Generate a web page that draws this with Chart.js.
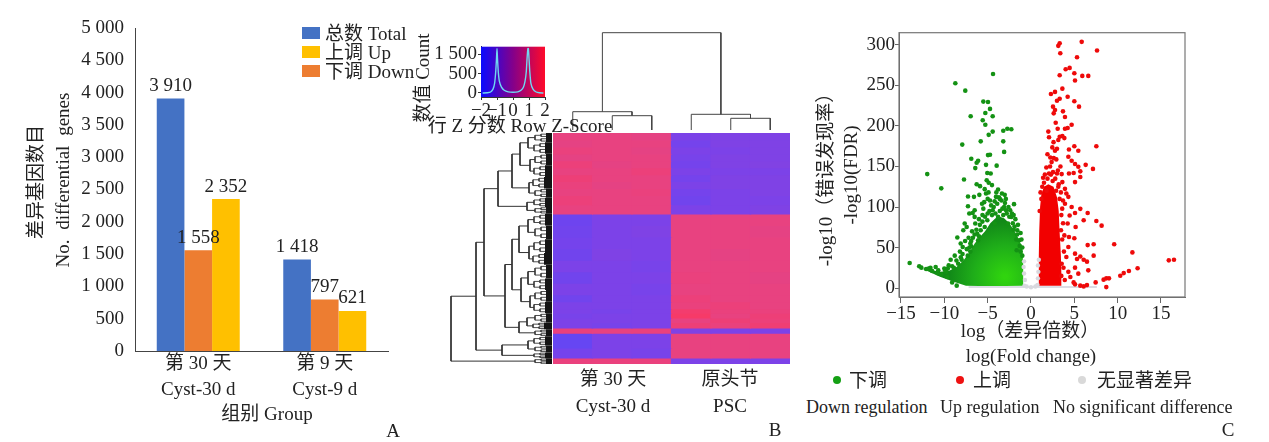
<!DOCTYPE html>
<html lang="zh">
<head>
<meta charset="utf-8">
<title>差异基因 Differential genes</title>
<script src="https://cdn.jsdelivr.net/npm/chart.js@4.4.1/dist/chart.umd.min.js"></script>
<style>
html,body{margin:0;padding:0;background:#fff;}
#fig{position:relative;width:1269px;height:442px;overflow:hidden;background:#fff;color:#222;
 font-family:'Liberation Serif','Noto Sans CJK SC',serif;font-size:19px;}
.cv{position:absolute;}
.t{position:absolute;white-space:nowrap;line-height:1;transform:translate(-50%,-50%);}
.l{position:absolute;white-space:nowrap;line-height:1;transform:translate(0,-50%);}
.rot{transform:translate(-50%,-50%) rotate(-90deg);}
.sw{position:absolute;width:18px;height:12px;}
.dot{position:absolute;width:8px;height:8px;border-radius:50%;transform:translate(-50%,-50%);}
</style>
</head>
<body>
<div id="fig">
 <div class="cv" style="left:0;top:0;width:410px;height:442px"><canvas id="barChart"></canvas></div>
 <div class="cv" style="left:410px;top:25px;width:150px;height:92px"><canvas id="keyChart"></canvas></div>
 <div class="cv" style="left:553px;top:28px;width:237px;height:105px"><canvas id="colDendro"></canvas></div>
 <div class="cv" style="left:445px;top:128px;width:108px;height:242px"><canvas id="rowDendro"></canvas></div>
 <div class="cv" style="left:553px;top:133px;width:237px;height:231px"><canvas id="heatmap"></canvas></div>
 <div class="cv" style="left:800px;top:20px;width:400px;height:307px"><canvas id="volcano"></canvas></div>

 <!-- Panel A texts -->
 <div class="t rot" style="left:35px;top:182px">差异基因数目</div>
 <div class="t rot" style="left:62px;top:180px;word-spacing:5px">No. differential genes</div>
 <div class="t" style="left:267px;top:413px">组别 Group</div>
 <div class="sw" style="left:302px;top:27px;background:#4472C4"></div>
 <div class="l" style="left:325px;top:33px">总数 Total</div>
 <div class="sw" style="left:302px;top:46px;background:#FFC000"></div>
 <div class="l" style="left:325px;top:52px">上调 Up</div>
 <div class="sw" style="left:302px;top:65px;background:#ED7D31"></div>
 <div class="l" style="left:325px;top:71px">下调 Down</div>
 <div class="t" style="left:393px;top:430px">A</div>

 <!-- Panel B texts -->
 <div class="t rot" style="left:422px;top:78px">数值 Count</div>
 <div class="t" style="left:520px;top:125px">行 Z 分数 Row Z-Score</div>
 <div class="t" style="left:613px;top:378px">第 30 天</div>
 <div class="t" style="left:613px;top:405px">Cyst-30 d</div>
 <div class="t" style="left:730px;top:378px">原头节</div>
 <div class="t" style="left:730px;top:405px">PSC</div>
 <div class="t" style="left:775px;top:429px">B</div>

 <!-- Panel C texts -->
 <div class="t rot" style="left:825px;top:175px">-log10（错误发现率）</div>
 <div class="t rot" style="left:850px;top:175px">-log10(FDR)</div>
 <div class="t" style="left:1030px;top:330px">log（差异倍数）</div>
 <div class="t" style="left:1031px;top:355px">log(Fold change)</div>
 <div class="dot" style="left:837px;top:380px;background:#14a014"></div>
 <div class="l" style="left:849px;top:380px">下调</div>
 <div class="dot" style="left:960px;top:380px;background:#ee1111"></div>
 <div class="l" style="left:973px;top:380px">上调</div>
 <div class="dot" style="left:1082px;top:380px;background:#d9d9d9"></div>
 <div class="l" style="left:1097px;top:380px">无显著差异</div>
 <div class="l" style="left:806px;top:407px;font-size:18px">Down regulation</div>
 <div class="l" style="left:940px;top:407px;font-size:18px">Up regulation</div>
 <div class="l" style="left:1053px;top:407px;font-size:18px">No significant difference</div>
 <div class="t" style="left:1228px;top:429px">C</div>
</div>

<script>
// ---------------- Panel A data ----------------
const groupLabels = [['第 30 天', 'Cyst-30 d'], ['第 9 天', 'Cyst-9 d']];
const totalGenes = [3910, 1418];
const downGenes = [1558, 797];
const upGenes = [2352, 621];

// ---------------- Panel B data ----------------
// colour-key histogram (Row Z-Score vs count)
const keyZ =     [-1.9, -1.6, -1.4, -1.25, -1.15, -1.08, -1.03, -1.0, -0.97, -0.92, -0.85, -0.72, -0.55, -0.3, 0, 0.3, 0.5, 0.65, 0.75, 0.83, 0.88, 0.93, 0.96, 1.0, 1.05, 1.12, 1.25, 1.45, 1.65, 1.9];
const keyCount = [0, 5, 25, 100, 250, 550, 900, 1150, 900, 550, 300, 150, 70, 30, 20, 30, 70, 150, 300, 550, 900, 1150, 1150, 900, 550, 250, 100, 25, 5, 0];
const keyTickValues = [0, 500, 1000];
const keyTickLabels = ['0', '500', '1 500'];
const keyZTicks = [-2, -1, 0, 1, 2];

// heatmap columns (3 replicates each)
const heatColumns = ['Cyst-30 d 1', 'Cyst-30 d 2', 'Cyst-30 d 3', 'PSC 1', 'PSC 2', 'PSC 3'];
// row bands (in % of gene rows, top to bottom)
const heatBandTop =    [0, 3, 6, 9, 12, 15, 18, 21, 24, 27, 31, 35, 40, 45, 50, 55, 60, 65, 70, 73, 76, 78, 80, 82, 84.4, 86.6, 93, 97.4];
const heatBandBottom = [3, 6, 9, 12, 15, 18, 21, 24, 27, 31, 35, 40, 45, 50, 55, 60, 65, 70, 73, 76, 78, 80, 82, 84.4, 86.6, 93, 97.4, 100];
const heatZ = [
  [1.0, 1.0, 0.95, -1.0, -0.95, -0.95],
  [0.95, 1.0, 1.0, -1.1, -0.95, -0.95],
  [1.05, 1.0, 0.95, -1.0, -1.0, -0.95],
  [0.95, 1.0, 1.0, -1.05, -0.95, -0.95],
  [1.1, 0.95, 1.0, -1.1, -0.95, -0.9],
  [1.0, 1.0, 1.1, -1.0, -1.0, -1.0],
  [1.15, 1.0, 1.0, -1.1, -0.95, -0.95],
  [1.05, 0.95, 1.0, -1.0, -0.95, -0.95],
  [1.0, 1.0, 1.05, -1.1, -1.0, -0.95],
  [1.1, 1.0, 1.0, -1.15, -1.0, -1.0],
  [1.0, 1.0, 1.0, -1.0, -1.0, -0.95],
  [-1.2, -1.0, -1.0, 1.0, 1.0, 1.0],
  [-1.15, -1.0, -0.95, 1.0, 1.0, 0.95],
  [-1.1, -1.0, -1.0, 1.0, 1.0, 1.0],
  [-1.15, -0.95, -1.0, 1.0, 0.95, 1.0],
  [-1.0, -1.0, -1.05, 1.0, 1.0, 1.0],
  [-1.15, -1.0, -1.0, 1.05, 1.0, 0.95],
  [-1.0, -1.0, -1.05, 1.0, 1.0, 1.0],
  [-1.15, -1.0, -1.0, 1.1, 1.0, 1.0],
  [-1.0, -1.0, -1.0, 1.05, 1.1, 1.0],
  [-1.0, -1.05, -1.0, 1.3, 1.05, 1.05],
  [-1.05, -1.0, -1.0, 1.4, 1.0, 1.15],
  [-1.0, -1.0, -1.0, 1.0, 1.15, 1.1],
  [-1.0, -1.05, -1.0, 1.15, 1.05, 1.2],
  [1.05, 1.0, 1.05, -0.95, -1.0, -1.0],
  [-1.3, -1.0, -1.0, 1.0, 1.0, 1.0],
  [-1.1, -1.0, -1.05, 1.0, 1.0, 1.0],
  [1.05, 1.05, 1.05, -1.0, -1.0, -1.0]
];
const zStops = [-1.5, -1, 0, 1, 1.5];
const zStopColors = [[88, 72, 250], [124, 66, 232], [177, 62, 180], [232, 66, 128], [250, 56, 98]];

// column dendrogram: leaf positions & merges [childA, childB, height] (hclust style)
const colLeafPos = [0.5, 1.5, 2.5, 3.5, 4.5, 5.5];
const colMerge = [[-2, -3, 14.3], [-1, 1, 18.3], [-5, -6, 11.7], [-4, 3, 15.7], [2, 4, 97.3]];

// row dendrogram: leaf clusters (row %), solid leaf-comb depth, merges
const rowLeafTop =    [0, 4, 9, 14, 19, 24, 28, 32, 35, 40, 46, 52, 57, 63, 68, 73, 78, 82, 85, 88, 92, 95, 97.5];
const rowLeafBottom = [4, 9, 14, 19, 24, 28, 32, 35, 40, 46, 52, 57, 63, 68, 73, 78, 82, 85, 88, 92, 95, 97.5, 100];
const rowLeafDepth =  [6, 7, 6, 7, 8, 6, 7, 6, 7, 6, 7, 8, 6, 7, 6, 7, 6, 8, 6, 7, 6, 7, 6];
const rowMerge = [
  [-1, -2, 24], [-3, -4, 22], [1, 2, 32], [-5, -6, 23], [3, 4, 40], [-7, -8, 25], [5, 6, 54],
  [-9, -10, 24], [-11, -12, 23], [8, 9, 33], [-13, -14, 24], [-15, -16, 22], [11, 12, 31], [10, 13, 40],
  [-17, -18, 25], [15, -19, 33], [14, 16, 47], [7, 17, 68],
  [-20, -21, 24], [19, -22, 50], [18, 20, 76], [21, -23, 101]
];

// ---------------- Panel C data (log fold change, -log10 FDR) ----------------
const downPoints = [
  [-4.38,264],[-8.73,252.6],[-7.58,243.5],[-5.5,230],[-4.96,229.5],[-4.73,221],[-5.27,216],[-4.42,212],[-6.96,212],
  [-5.57,207],[-5.27,201.5],[-4.42,193],[-4.88,189],[-3.2,194],[-2.73,196.6],[-2.27,196],[-5.8,181],[-3.2,181],
  [-7.93,177],[-3.1,168],[-4.96,164],[-4.73,164.5],[-6.89,159.5],[-6.1,157],[-6.27,154.6],[-6.43,148],[-5.19,152],
  [-3.96,151],[-5.04,142],[-4.65,141.4],[-11.97,140.6],[-7.73,134],[-10.35,123],[-6.27,128],[-5.88,125.7],[-5.11,133],
  [-4.88,130],[-4.5,127],[-3.8,121.6],[-7.27,113],[-6.58,112.5],[-5.96,115],[-3.35,116.7],[-3.03,115],[-5.34,122],
  [-5.19,116.7],[-7.27,101],[-6.5,96],[-1.96,103.5],[-7.12,92],[-6.73,92.7],[-7.65,79.6],[-7.81,71.3],[-7.42,75.4],
  [-8.5,62.3],[-8.11,55],[-7.88,50.7],[-9.27,35],[-14,31],[-12.65,25.2],[-12.1,23.5],[-11.4,21],[-10.8,18.5],
  [-10.35,17],[-9.66,13.6],[-9.1,7],[-8.57,3],[-6.89,51.5],[-6.1,59],[-6.43,79.6],[-5.34,75.4],[-6.5,87.8],
  [-5.65,104],[-4.73,108],[-4.04,112.5],[-1.58,71.3],[-1.35,59],[-1.65,46.6],[-2.65,79.6],[-2.27,87.8],[-2.88,96],
  [-4.42,96],[-3.8,87.8],[-4.19,79.6],[-5.04,83.7],[-5.8,71.3],
  [-4.0,118],[-3.6,110],[-3.0,105],[-2.6,100],[-2.2,92],[-1.8,85],[-1.5,78],[-1.2,68],[-5.0,110],[-5.5,98],
  [-6.0,85],[-6.8,70],[-7.2,62],[-7.6,58],[-8.2,45],[-8.8,40],[-9.5,28],[-10,24],[-11,26],[-8,35],[-7,45],
  [-6.2,67],[-5.6,90],[-4.6,102],[-3.3,98],[-2,90],[-9.8,20],[-11.8,24],[-12.9,27],[-8.4,30],[-7.3,40],
  [-3.9,104],[-3.4,108],[-4.3,100],[-4.8,95],[-3.1,100],[-2.8,92],[-2.4,96],[-2.1,80],[-1.9,76],[-1.6,66],
  [-1.3,52],[-1.1,60],[-5.3,88],[-5.9,78],[-6.3,72],[-6.7,62],[-7.0,55],[-7.4,48],[-7.9,42],[-8.6,34],
  [-9.1,27],[-9.9,22],[-10.7,22],[-11.6,25],[-4.1,92],[-3.6,95],[-3.2,90],[-4.5,90],[-5.0,92],[-2.5,88],
  [-2.0,72],[-1.7,60],[-6.0,64],[-6.5,66],[-7.1,50],[-3.7,112],[-4.2,107],[-2.9,110],[-5.4,106],[-4.9,118],
  [-1.0,50],[-1.2,45],[-1.0,40],[-8.1,38],[-8.9,25],[-9.6,24],[-6.9,58],[-5.6,82]
];
const upPoints = [
  [5.85,303.7],[3.31,302],[3.15,298.8],[3.38,289.7],[7.62,293],[5.31,284.8],[4.0,270],[4.46,271.6],[5.0,265],
  [5.08,256],[5.92,261.7],[6.61,261.7],[3.31,262.6],[3.62,246],[2.77,242],[2.3,239.4],[3.31,233.6],[3.0,231],
  [4.23,236],[5.0,230.4],[5.54,223.8],[2.54,223.8],[2.77,219.6],[2.62,215.5],[3.69,218],[3.92,211],[2.85,204],
  [3.08,196.5],[3.92,196.5],[4.23,197.4],[4.69,201.5],[2.0,193],[2.08,186],[3.31,186.7],[3.62,187.5],[3.85,185],
  [3.15,182.6],[2.46,173.5],[3.0,171.8],[2.77,169.4],[5.0,175],[5.46,169.4],[4.38,171],[7.54,175],[2.23,161],
  [2.62,160.3],[2.38,155.4],[2.92,158.7],[4.31,162],[4.69,157],[5.08,153],[5.46,149.6],[6.31,152],[7.15,147],
  [1.77,148.8],[2.08,141.4],[2.54,143],[3.0,141.4],[3.54,140.6],[4.38,141.4],[4.92,142],[5.69,144],[5.08,130.7],
  [5.69,137],[4.08,116.7],[4.31,112.5],[4.69,100],[5.08,92.7],[5.69,97.7],[6.54,92.7],[6.08,83.7],[7.54,82.8],
  [8.15,77],[4.38,63],[5.0,61.4],[6.54,53],[7.23,54],[9.6,54],[7.23,40],[11.7,44],[5.69,39],[6.08,35],[6.46,32.6],
  [5.31,35.8],[15.9,34.2],[16.5,35],[5.08,25.2],[4.31,20],[4.54,13.6],[5.46,17.8],[6.61,21.9],[12.3,24.4],[11.3,21],
  [10.7,18.5],[10.3,15.3],[8.69,12],[8.38,10.4],[9.0,12],[7.46,7],[8.69,1.2],[5.08,4.6],[5.69,3],[6.08,2.1],
  [6.46,3.7],[4.92,7],[3.92,104],[4.46,89.5],[5.15,75.4],[4.23,79.6],[3.46,71.3],[4.31,50.7],[4.08,38.3],[5.08,42.5],
  [3.54,30],[3.62,130.7],[3.15,125],[3.92,122.4],[3.69,108],
  [1.5,130],[1.9,135],[2.5,132],[2.9,120],[3.3,110],[1.2,110],[1.0,95],[3.5,90],[3.6,60],[3.8,45],[3.5,15],
  [1.3,125],[2.2,150],[1.9,165],[2.6,180],[3.4,150],[1.6,140],[1.4,136],[2.8,135],[3.2,128],[3.45,118],
  [3.6,98],[3.7,80],[3.85,65],[3.75,25],[3.9,10],[1.1,118],[2.3,140],[1.8,120],[3.1,145]
];
const nsPoints = [[-0.75,3],[-0.7,10],[-0.8,18],[-0.85,26],[-0.8,33],[0.75,4],[0.8,12],[0.85,20],[0.8,28],[0.9,35],[-0.5,2],[0.5,2],[0,1]];
// outlines of the dense point clouds
const downCore = [[-12.6,24],[-11.5,22],[-10.5,20],[-9.5,21],[-8.6,26],[-7.8,34],[-7.1,44],[-6.5,55],[-5.9,63],[-5.3,70],
  [-4.7,80],[-4.1,86],[-3.6,88],[-3.1,86],[-2.5,80],[-1.9,70],[-1.4,60],[-1.0,50],[-0.9,30],[-0.9,3],[-3,2.5],[-6,2.5],
  [-7.5,3],[-9,8],[-10.5,14],[-12.6,24]];
const upCore = [[0.9,3],[0.9,40],[0.95,70],[1.05,100],[1.2,116],[1.5,125],[2.0,128],[2.6,125],[3.0,112],[3.2,95],[3.3,70],
  [3.45,40],[3.5,20],[3.5,3],[0.9,3]];
const nsBand = [[-7.2,0],[7.6,0],[7.6,2.6],[-7.2,2.6],[-7.2,0]];
const fcTicks = [-15, -10, -5, 0, 5, 10, 15];
const fdrTicks = [0, 50, 100, 150, 200, 250, 300];

// ---------------- helpers ----------------
const FONT = "'Liberation Serif','Noto Sans CJK SC',serif";
Chart.defaults.font.family = FONT;
Chart.defaults.font.size = 19;
Chart.defaults.color = '#222';
Chart.defaults.animation = false;
Chart.defaults.responsive = true;
Chart.defaults.maintainAspectRatio = false;
Chart.defaults.events = [];
Chart.defaults.plugins.legend.display = false;
Chart.defaults.plugins.tooltip.enabled = false;

const fmt = v => String(v).replace(/\B(?=(\d{3})+(?!\d))/g, ' ');
const minus = v => (v < 0 ? '\u2212' + Math.abs(v) : String(v));
const toXY = a => a.map(([x, y]) => ({x, y}));
function zColor(z) {
  if (z <= zStops[0]) return `rgb(${zStopColors[0].join(',')})`;
  for (let i = 1; i < zStops.length; i++) {
    if (z <= zStops[i]) {
      const t = (z - zStops[i - 1]) / (zStops[i] - zStops[i - 1]);
      const a = zStopColors[i - 1], b = zStopColors[i];
      return `rgb(${a.map((c, k) => Math.round(c + (b[k] - c) * t)).join(',')})`;
    }
  }
  return `rgb(${zStopColors[zStops.length - 1].join(',')})`;
}
function buildDendro(merge, leafPos, leafH) {
  const pos = [], hgt = [], segs = [];
  const P = c => (c < 0 ? leafPos[-c - 1] : pos[c - 1]);
  const H = c => (c < 0 ? leafH[-c - 1] : hgt[c - 1]);
  merge.forEach(([a, b, h], i) => {
    pos[i] = (P(a) + P(b)) / 2; hgt[i] = h;
    segs.push([[P(a), H(a)], [P(a), h], [P(b), h], [P(b), H(b)]]);
  });
  return segs;
}
const fixedTicks = vals => function (scale) { scale.ticks = vals.map(v => ({value: v})); };

// ---------------- Panel A: bar chart ----------------
const valueLabels = {
  id: 'valueLabels',
  afterDatasetsDraw(chart) {
    const ctx = chart.ctx;
    ctx.save();
    ctx.font = '19px ' + FONT; ctx.fillStyle = '#222';
    ctx.textAlign = 'center'; ctx.textBaseline = 'bottom';
    chart.data.datasets.forEach((ds, i) => {
      chart.getDatasetMeta(i).data.forEach((bar, j) => ctx.fillText(fmt(ds.data[j]), bar.x, bar.y - 3));
    });
    ctx.restore();
  }
};
new Chart(document.getElementById('barChart'), {
  type: 'bar',
  data: {
    labels: groupLabels,
    datasets: [
      {label: '总数 Total', data: totalGenes, backgroundColor: '#4472C4'},
      {label: '下调 Down', data: downGenes, backgroundColor: '#ED7D31'},
      {label: '上调 Up', data: upGenes, backgroundColor: '#FFC000'}
    ]
  },
  options: {
    layout: {padding: {left: 0, top: 28, right: 22, bottom: 16}},
    datasets: {bar: {categoryPercentage: 0.656, barPercentage: 1, borderWidth: 0}},
    scales: {
      x: {
        grid: {display: false, drawTicks: false},
        border: {color: '#444'},
        ticks: {padding: 0, font: {size: 19, lineHeight: 1.37}, maxRotation: 0},
        afterFit(s) { s.height = 75; }
      },
      y: {
        min: 0, max: 5000,
        grid: {display: false, drawTicks: false},
        border: {color: '#444'},
        ticks: {stepSize: 500, padding: 11, callback: v => fmt(v)},
        afterFit(s) { s.width = 135; }
      }
    }
  },
  plugins: [valueLabels]
});

// ---------------- Panel B: colour key ----------------
const keyGradient = {
  id: 'keyGradient',
  beforeDatasetsDraw(chart) {
    const {ctx, chartArea: a, scales} = chart;
    const x0 = scales.x.getPixelForValue(-2), x1 = scales.x.getPixelForValue(2);
    const g = ctx.createLinearGradient(x0, 0, x1, 0);
    g.addColorStop(0, '#0a0aff'); g.addColorStop(0.5, '#84008a'); g.addColorStop(1, '#ff0a2a');
    ctx.save(); ctx.fillStyle = g; ctx.fillRect(a.left, a.top, a.right - a.left, a.bottom - a.top); ctx.restore();
  }
};
new Chart(document.getElementById('keyChart'), {
  type: 'line',
  data: {datasets: [{data: keyZ.map((z, i) => ({x: z, y: keyCount[i]})), borderColor: '#6fd8f2', borderWidth: 1.4, pointRadius: 0, tension: 0.2, fill: false}]},
  options: {
    layout: {padding: {left: 0, top: 21.7, right: 15, bottom: 0}},
    scales: {
      x: {
        type: 'linear', min: -2, max: 2,
        afterBuildTicks: fixedTicks(keyZTicks),
        grid: {display: true, drawOnChartArea: false, tickLength: 3, color: '#333'},
        border: {color: '#333'},
        ticks: {padding: 0, autoSkip: false, maxRotation: 0, callback: v => minus(v)},
        afterFit(s) { s.height = 20; }
      },
      y: {
        min: -104, max: 1197,
        afterBuildTicks: fixedTicks(keyTickValues),
        grid: {display: true, drawOnChartArea: false, tickLength: 3, color: '#333'},
        border: {color: '#333'},
        ticks: {padding: 1, autoSkip: false, callback: (v, i) => keyTickLabels[i]},
        afterFit(s) { s.width = 71; }
      }
    }
  },
  plugins: [keyGradient]
});

// ---------------- Panel B: column dendrogram ----------------
new Chart(document.getElementById('colDendro'), {
  type: 'line',
  data: {datasets: buildDendro(colMerge, colLeafPos, colLeafPos.map(() => 0)).map(seg => ({
    data: seg.map(([p, h]) => ({x: p, y: h})), borderColor: '#444', borderWidth: 1, pointRadius: 0, fill: false, clip: false
  }))},
  options: {
    layout: {padding: {top: 4.7, bottom: 3, left: 0, right: 0}},
    scales: {x: {type: 'linear', display: false, min: 0, max: 6}, y: {display: false, min: 0, max: 97.3}}
  }
});

// ---------------- Panel B: row dendrogram ----------------
const rowLeafPos = rowLeafTop.map((t, i) => (t + rowLeafBottom[i]) / 2);
// each leaf cluster ends in two small sub-brackets above its solid comb of gene leaves
const rowLeafJoin = rowLeafDepth.map(d => d + 11);
const rowDatasets = buildDendro(rowMerge, rowLeafPos, rowLeafJoin).map(seg => ({
  data: seg.map(([p, h]) => ({x: h, y: p})), borderColor: '#333', borderWidth: 1, pointRadius: 0, fill: false, clip: false
}));
const lineSet = pts => ({data: pts, borderColor: '#3a3a3a', borderWidth: 0.9, pointRadius: 0, fill: false, clip: false});
rowLeafTop.forEach((t, i) => {
  const b = rowLeafBottom[i], d = rowLeafDepth[i], w = b - t, j = rowLeafJoin[i];
  const q1 = t + w * 0.25, q3 = t + w * 0.75;
  rowDatasets.push(lineSet([{x: d + 5, y: q1}, {x: j, y: q1}, {x: j, y: q3}, {x: d + 5, y: q3}]));
  [[t, t + w * 0.5, q1], [t + w * 0.5, b, q3]].forEach(([s0, s1]) => {
    const a1 = s0 + (s1 - s0) * 0.25, a3 = s0 + (s1 - s0) * 0.75;
    rowDatasets.push(lineSet([{x: d, y: a1}, {x: d + 5, y: a1}, {x: d + 5, y: a3}, {x: d, y: a3}]));
  });
  rowDatasets.push({
    data: [{x: 0, y: t}, {x: d, y: t}, {x: d, y: b}, {x: 0, y: b}, {x: 0, y: t}],
    borderWidth: 0, borderColor: 'rgba(0,0,0,0)', backgroundColor: '#141414', pointRadius: 0, fill: 'shape', clip: false
  });
});
new Chart(document.getElementById('rowDendro'), {
  type: 'line',
  data: {datasets: rowDatasets},
  options: {
    layout: {padding: {top: 5, bottom: 6, left: 6, right: 1}},
    scales: {x: {type: 'linear', display: false, min: 0, max: 101, reverse: true}, y: {type: 'linear', display: false, min: 0, max: 100, reverse: true}}
  }
});

// ---------------- Panel B: heatmap ----------------
new Chart(document.getElementById('heatmap'), {
  type: 'bar',
  data: {
    labels: heatColumns,
    datasets: heatBandTop.map((r0, i) => ({
      data: heatColumns.map(() => [r0, heatBandBottom[i]]),
      backgroundColor: heatZ[i].map(zColor),
      borderWidth: 0, inflateAmount: 0.6, grouped: false, categoryPercentage: 1, barPercentage: 1
    }))
  },
  options: {
    layout: {padding: 0},
    scales: {x: {display: false}, y: {display: false, min: 0, max: 100, reverse: true}}
  }
});

// ---------------- Panel C: volcano plot ----------------
const frame = {
  id: 'frame',
  afterDatasetsDraw(chart) {
    const {ctx, chartArea: a} = chart;
    ctx.save(); ctx.strokeStyle = '#777'; ctx.lineWidth = 1.2;
    ctx.strokeRect(a.left, a.top, a.right - a.left, a.bottom - a.top); ctx.restore();
  }
};
const greenGradient = c => {
  const ch = c.chart;
  if (!ch.chartArea) return '#1a9a1a';
  const cx = ch.scales.x.getPixelForValue(-3), cy = ch.scales.y.getPixelForValue(14);
  const g = ch.ctx.createRadialGradient(cx, cy, 2, cx, cy, 55);
  g.addColorStop(0, '#30d40e'); g.addColorStop(0.55, '#1fae19'); g.addColorStop(1, '#128a18');
  return g;
};
new Chart(document.getElementById('volcano'), {
  type: 'scatter',
  data: {datasets: [
    {type: 'line', label: 'ns band', data: toXY(nsBand), fill: 'shape', backgroundColor: '#dcdce4', borderWidth: 0, pointRadius: 0, order: 6},
    {type: 'line', label: 'down core', data: toXY(downCore), fill: 'shape', backgroundColor: greenGradient, borderWidth: 0, pointRadius: 0, order: 5},
    {type: 'line', label: 'up core', data: toXY(upCore), fill: 'shape', backgroundColor: '#f20000', borderWidth: 0, pointRadius: 0, order: 5},
    {label: '无显著差异 No significant difference', data: toXY(nsPoints), backgroundColor: '#d8d8de', borderWidth: 0, pointRadius: 2.2, order: 4},
    {label: '下调 Down regulation', data: toXY(downPoints), backgroundColor: '#149214', borderWidth: 0, pointRadius: 2.3, order: 2},
    {label: '上调 Up regulation', data: toXY(upPoints), backgroundColor: '#ee0a0a', borderWidth: 0, pointRadius: 2.3, order: 1}
  ]},
  options: {
    layout: {padding: {left: 0, top: 12.7, right: 15, bottom: 0}},
    scales: {
      x: {
        type: 'linear', min: -15.23, max: 17.77,
        afterBuildTicks: fixedTicks(fcTicks),
        grid: {display: true, drawOnChartArea: false, tickLength: 6, color: '#666'},
        border: {color: '#666'},
        ticks: {padding: 0, autoSkip: false, maxRotation: 0, callback: v => minus(v)},
        afterFit(s) { s.height = 30; }
      },
      y: {
        type: 'linear', min: -11, max: 315,
        afterBuildTicks: fixedTicks(fdrTicks),
        grid: {display: true, drawOnChartArea: false, tickLength: 4, color: '#666'},
        border: {color: '#666'},
        ticks: {padding: 0, autoSkip: false},
        afterFit(s) { s.width = 99; }
      }
    }
  },
  plugins: [frame]
});
</script>
</body>
</html>
